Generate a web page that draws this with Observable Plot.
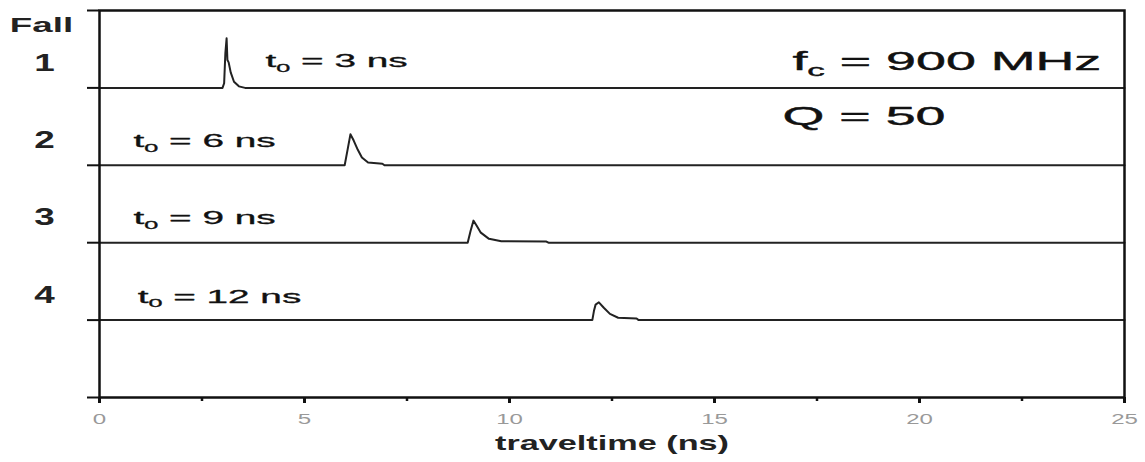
<!DOCTYPE html>
<html>
<head>
<meta charset="utf-8">
<script src="https://cdn.jsdelivr.net/npm/d3@7"></script>
<script src="https://cdn.jsdelivr.net/npm/@observablehq/plot@0.6"></script>
<style>
  html, body { margin: 0; padding: 0; background: #fff; }
  #chart svg { display: block; }
</style>
</head>
<body>
<div id="chart"></div>
<script>
// ---- data ----
const falls = [1, 2, 3, 4];
const fallLabels = ["1", "2", "3", "4"];

// traveltime (ns) and pulse amplitude (in row units) of each trace
const fall1T = [0, 3.0, 3.04, 3.07, 3.10, 3.12, 3.15, 3.2, 3.28, 3.4, 3.55, 25];
const fall1A = [0, 0, 0.06, 0.45, 0.64, 0.36, 0.33, 0.2, 0.08, 0.02, 0, 0];
const fall2T = [0, 5.98, 6.05, 6.12, 6.2, 6.3, 6.4, 6.55, 6.9, 6.95, 25];
const fall2A = [0, 0, 0.2, 0.40, 0.32, 0.2, 0.1, 0.035, 0.02, 0, 0];
const fall3T = [0, 8.98, 9.05, 9.12, 9.2, 9.3, 9.5, 9.8, 10.9, 10.95, 25];
const fall3A = [0, 0, 0.15, 0.285, 0.22, 0.13, 0.05, 0.02, 0.015, 0, 0];
const fall4T = [0, 12.02, 12.06, 12.1, 12.18, 12.3, 12.45, 12.65, 13.1, 13.15, 25];
const fall4A = [0, 0, 0.12, 0.2, 0.23, 0.16, 0.08, 0.03, 0.02, 0, 0];

const t0Labels = ["t_0 = 3 ns", "t_0 = 6 ns", "t_0 = 9 ns", "t_0 = 12 ns"];
const t0LabelX = [4.05, 0.83, 0.83, 0.93];
const t0LabelY = [0.66, 1.69, 2.69, 3.70];

const infoLabels = ["f_c = 900 MHz", "Q = 50"];
const infoX = [16.9, 16.66];
const infoY = [0.66, 1.37];

const xTicks = [0, 5, 10, 15, 20, 25];
const xMinorTicks = [2.5, 7.5, 12.5, 17.5, 22.5];
const yTicks = [0, 1, 2, 3, 4, 5];
const xLabel = "traveltime (ns)";
const yTitle = "Fall";

// ---- build tables ----
const traceT = [fall1T, fall2T, fall3T, fall4T];
const traceA = [fall1A, fall2A, fall3A, fall4A];
const traces = [];
falls.forEach((f, i) => {
  traceT[i].forEach((t, j) => traces.push({fall: f, t, y: f - traceA[i][j]}));
});
const t0Data = t0Labels.map((s, i) => ({s, x: t0LabelX[i], y: t0LabelY[i]}));
const infoData = infoLabels.map((s, i) => ({s, x: infoX[i], y: infoY[i]}));
const fallData = falls.map((f, i) => ({s: fallLabels[i], y: f - 0.32}));

const font = "Liberation Sans, Arial, Helvetica, sans-serif";

const chart = Plot.plot({
  width: 1145,
  height: 462,
  marginLeft: 99,
  marginRight: 21,
  marginTop: 10,
  marginBottom: 65,
  style: {fontFamily: font, background: "#fff"},
  x: {domain: [0, 25]},
  y: {domain: [0, 5], reverse: true},
  marks: [
    Plot.line(traces, {x: "t", y: "y", z: "fall", stroke: "#222", strokeWidth: 2, curve: "linear", strokeLinejoin: "round"}),
    Plot.frame({stroke: "#111", strokeWidth: 2.5}),
    Plot.axisY({ticks: yTicks, tickSize: 12, tickFormat: () => "", stroke: "#111", strokeWidth: 2, label: null}),
    Plot.axisX({ticks: xTicks, tickSize: 6, tickPadding: 10, stroke: "#111", strokeWidth: 3, fill: "#999", fontSize: 15, label: null}),
    Plot.axisX({ticks: xMinorTicks, tickSize: 4, tickFormat: () => "", stroke: "#111", strokeWidth: 2.5, label: null}),
    Plot.text(fallData, {text: "s", y: "y", frameAnchor: "left", dx: -55, textAnchor: "middle", fontSize: 23, fontWeight: "bold", fill: "#222", className: "s-fall"}),
    Plot.text([yTitle], {frameAnchor: "top-left", dx: -58, dy: 7, textAnchor: "middle", fontSize: 21, fontWeight: "bold", fill: "#222", className: "s-title"}),
    Plot.text(t0Data, {text: "s", x: "x", y: "y", textAnchor: "start", fontSize: 18, fill: "#111", stroke: "#111", strokeWidth: 0.3, className: "s-t0"}),
    Plot.text(infoData, {text: "s", x: "x", y: "y", textAnchor: "start", fontSize: 25, fill: "#111", stroke: "#111", strokeWidth: 0.4, className: "s-info"}),
    Plot.text([xLabel], {frameAnchor: "bottom", dy: 52, fontSize: 21, fontWeight: "bold", fill: "#222", className: "s-xlabel"})
  ]
});

// render "_x" as a subscript
const ns = "http://www.w3.org/2000/svg";
chart.querySelectorAll("text").forEach(el => {
  const s = el.textContent;
  const m = s.match(/^(.*?)_(\w)(.*)$/);
  if (!m || el.children.length) return;
  el.textContent = "";
  const a = document.createElementNS(ns, "tspan"); a.textContent = m[1];
  const b = document.createElementNS(ns, "tspan"); b.textContent = m[2];
  b.setAttribute("dy", "0.4em"); b.setAttribute("font-size", "0.65em");
  const c = document.createElementNS(ns, "tspan"); c.textContent = m[3];
  c.setAttribute("dy", "-0.26em");
  el.append(a, b, c);
});

document.getElementById("chart").append(chart);

// the reference lettering is horizontally wide: stretch glyphs
function stretch(sel, f) {
  chart.querySelectorAll(sel).forEach(t => {
    const w = t.getComputedTextLength();
    t.setAttribute("textLength", (w * f).toFixed(1));
    t.setAttribute("lengthAdjust", "spacingAndGlyphs");
  });
}
stretch(".s-t0 text", 2.15);
stretch(".s-info text", 2.15);
stretch(".s-title text", 1.75);
stretch(".s-fall text", 1.6);
stretch(".s-xlabel text", 1.63);
stretch('g[aria-label="x-axis tick label"] text', 1.6);
</script>
</body>
</html>
